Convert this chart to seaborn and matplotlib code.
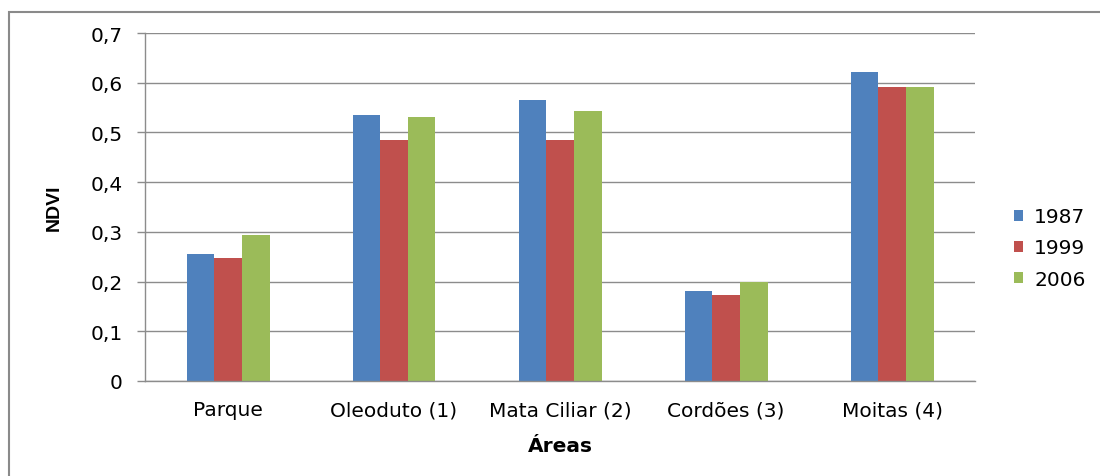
import matplotlib
matplotlib.use("Agg")
import matplotlib.pyplot as plt
from matplotlib.patches import Rectangle
from matplotlib.ticker import FixedLocator, FixedFormatter
import seaborn as sns
import pandas as pd

# NDVI means per area and year
areas = ["Parque", "Oleoduto (1)", "Mata Ciliar (2)", "Cordões (3)", "Moitas (4)"]
years = ["1987", "1999", "2006"]
ndvi_1987 = [0.256, 0.535, 0.566, 0.182, 0.622]
ndvi_1999 = [0.247, 0.484, 0.484, 0.172, 0.592]
ndvi_2006 = [0.293, 0.532, 0.543, 0.200, 0.592]
y_ticks = [0, 0.1, 0.2, 0.3, 0.4, 0.5, 0.6, 0.7]
y_tick_labels = ["0", "0,1", "0,2", "0,3", "0,4", "0,5", "0,6", "0,7"]
colors = ["#4F81BD", "#C0504D", "#9BBB59"]

rows = []
for yr, vals in zip(years, [ndvi_1987, ndvi_1999, ndvi_2006]):
    for a, v in zip(areas, vals):
        rows.append({"Área": a, "NDVI": v, "Ano": yr})
df = pd.DataFrame(rows)

sns.set_theme(style="white")
plt.rcParams["font.family"] = ["DejaVu Sans"]
plt.rcParams["text.color"] = "black"
plt.rcParams["axes.labelcolor"] = "black"

FS = 14.5
fig = plt.figure(figsize=(11, 4.77), dpi=100)
W, H = 1100, 477
ax = fig.add_axes([145 / W, 1 - 382 / H, (975 - 145) / W, (382 - 34) / H])

sns.barplot(data=df, x="Área", y="NDVI", hue="Ano", hue_order=years,
            order=areas, palette=colors, saturation=1, width=0.5,
            linewidth=0, errorbar=None, ax=ax)

grid_c = "#8c8c8c"
ax.set_ylim(0, 0.7)
ax.set_xlim(-0.5, 4.5)
ax.yaxis.set_major_locator(FixedLocator(y_ticks))
ax.yaxis.set_major_formatter(FixedFormatter(y_tick_labels))
ax.grid(axis="y", color=grid_c, linewidth=1.0)
ax.set_axisbelow(True)
for s in ["top", "right"]:
    ax.spines[s].set_visible(False)
for s in ["left", "bottom"]:
    ax.spines[s].set_color(grid_c)
    ax.spines[s].set_linewidth(1.0)
ax.tick_params(axis="y", length=6, width=1.0, color=grid_c, pad=10,
               labelsize=FS, labelcolor="black", left=True)
ax.tick_params(axis="x", length=0, pad=14, labelsize=FS, labelcolor="black")

ax.set_ylabel("NDVI", fontsize=14, fontweight="bold", labelpad=20,
              color="black", family=["Liberation Sans", "DejaVu Sans"])
ax.set_xlabel("Áreas", fontsize=FS, fontweight="bold", labelpad=12,
              color="black")

ax.legend_.remove()
handles = [Rectangle((0, 0), 1, 1, facecolor=c, edgecolor="none") for c in colors]
fig.legend(handles, years, loc="center left",
           bbox_to_anchor=(1004 / W, 1 - 249 / H), frameon=False,
           fontsize=FS, handlelength=0.45, handleheight=0.45,
           handletextpad=0.55, labelspacing=0.6, borderpad=0,
           labelcolor="black")

# outer chart frame (top and left edges)
fig.add_artist(Rectangle((8.5 / W, -0.1), 1.2, (1 - 12.5 / H) + 0.1,
                         transform=fig.transFigure, fill=False,
                         edgecolor="#8a8a8a", linewidth=1.5))

fig.savefig("out.png", dpi=100, facecolor="white")
